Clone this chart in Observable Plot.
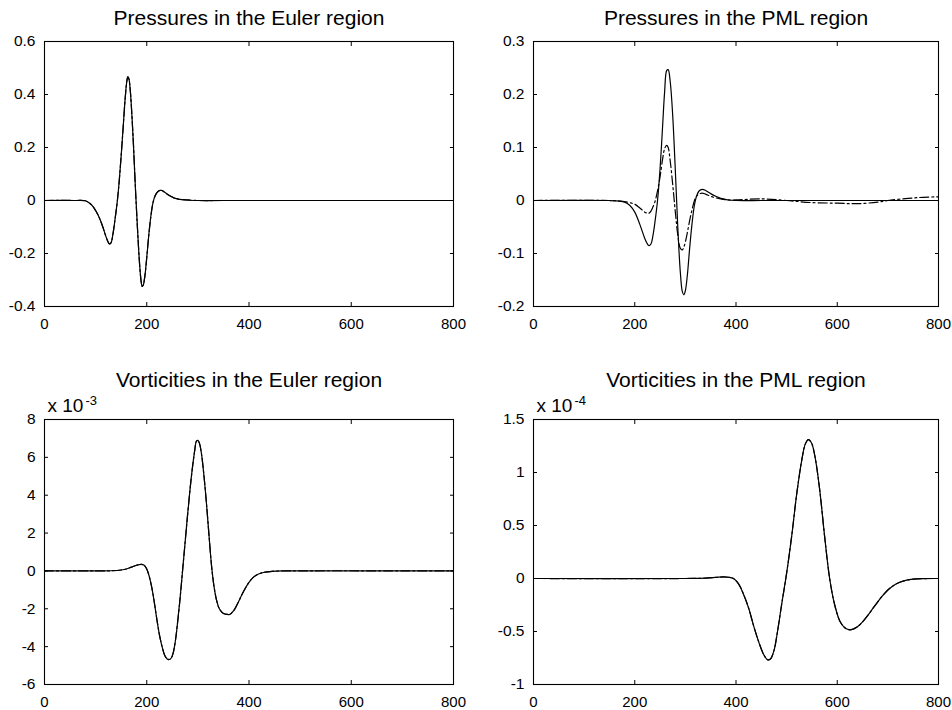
<!DOCTYPE html>
<html><head><meta charset="utf-8">
<script src="https://cdn.jsdelivr.net/npm/d3@7"></script>
<script src="https://cdn.jsdelivr.net/npm/@observablehq/plot@0.6"></script>
<style>
body{margin:0;background:#fff;}
#fig{position:relative;width:952px;height:710px;background:#fff;overflow:hidden;}
#fig > svg{position:absolute;overflow:visible;}
</style></head><body><div id="fig"></div>
<script>
// ---------- data ----------
const xTicks = [0, 200, 400, 600, 800];

// Pressures in the Euler region
const pEulerX      = [0, 60, 80, 85, 90, 95, 100, 105, 110, 115, 120, 124, 127, 130, 134, 138, 142, 146, 150, 154, 158, 161, 163, 165, 168, 171, 174, 178, 182, 186, 189, 191, 193, 196, 200, 204, 208, 211, 214, 218, 222, 226, 229, 233, 238, 245, 252, 260, 270, 285, 300, 350, 800];
const pEulerSolid  = [0, 0, -0.001, -0.006, -0.013, -0.023, -0.038, -0.056, -0.078, -0.105, -0.135, -0.155, -0.164, -0.16, -0.125, -0.07, -0.01, 0.07, 0.17, 0.28, 0.39, 0.45, 0.467, 0.46, 0.41, 0.32, 0.21, 0.04, -0.11, -0.24, -0.305, -0.324, -0.32, -0.29, -0.215, -0.13, -0.06, -0.02, 0.005, 0.024, 0.034, 0.038, 0.038, 0.034, 0.027, 0.018, 0.011, 0.006, 0.003, 0.001, 0, 0, 0];
const pEulerDash   = pEulerSolid.slice();

// Pressures in the PML region
const pPmlX        = [0, 150, 170, 180, 190, 200, 210, 220, 225, 228, 232, 236, 240, 245, 250, 255, 259, 263, 266, 270, 275, 280, 285, 290, 294, 297, 300, 304, 308, 313, 318, 322, 327, 333, 340, 350, 360, 370, 385, 400, 450, 500, 550, 600, 640, 680, 700, 740, 770, 800];
const pPmlSolid    = [0, 0, -0.001, -0.003, -0.009, -0.022, -0.045, -0.072, -0.082, -0.085, -0.082, -0.066, -0.04, 0.0, 0.06, 0.14, 0.205, 0.245, 0.247, 0.225, 0.16, 0.06, -0.05, -0.135, -0.172, -0.178, -0.17, -0.14, -0.095, -0.045, -0.008, 0.008, 0.018, 0.021, 0.019, 0.013, 0.008, 0.004, 0.001, 0, 0, 0, 0, 0, 0, 0, 0, 0, 0, 0];
const pPmlDash     = [0, 0, -0.001, -0.002, -0.004, -0.007, -0.014, -0.022, -0.024, -0.024, -0.02, -0.012, -0.002, 0.018, 0.045, 0.078, 0.098, 0.104, 0.1, 0.075, 0.03, -0.02, -0.065, -0.09, -0.093, -0.088, -0.078, -0.06, -0.04, -0.018, 0.0, 0.008, 0.012, 0.014, 0.012, 0.008, 0.005, 0.003, 0.001, 0.001, 0.003, 0.0, -0.004, -0.005, -0.006, -0.003, 0.0, 0.004, 0.006, 0.007];

// Vorticities in the Euler region (x 10^-3)
const vEulerX      = [0, 100, 130, 150, 160, 170, 180, 189, 195, 200, 205, 210, 215, 220, 225, 230, 235, 240, 244, 248, 252, 256, 260, 265, 270, 275, 280, 285, 290, 294, 297, 300, 303, 307, 312, 317, 322, 327, 332, 337, 342, 350, 358, 362, 370, 380, 390, 400, 410, 420, 430, 445, 470, 800];
const vEulerSolid  = [0, 0, 0.01, 0.05, 0.1, 0.2, 0.3, 0.35, 0.3, 0.1, -0.3, -0.9, -1.7, -2.6, -3.4, -4.0, -4.45, -4.65, -4.68, -4.6, -4.3, -3.7, -2.8, -1.5, 0.0, 1.5, 3.0, 4.4, 5.6, 6.4, 6.85, 6.9, 6.75, 6.2, 5.0, 3.5, 1.8, 0.2, -0.9, -1.6, -2.0, -2.25, -2.3, -2.3, -2.1, -1.6, -1.05, -0.6, -0.3, -0.15, -0.07, -0.02, 0, 0];
const vEulerDash   = vEulerSolid.slice();

// Vorticities in the PML region (x 10^-4)
const vPmlX        = [0, 300, 340, 360, 375, 385, 395, 405, 415, 425, 435, 445, 455, 462, 468, 475, 482, 490, 500, 510, 520, 530, 537, 543, 549, 556, 565, 575, 585, 595, 605, 615, 623, 630, 640, 650, 660, 670, 680, 690, 700, 710, 720, 735, 750, 770, 800];
const vPmlSolid    = [0, 0, 0.003, 0.01, 0.015, 0.012, 0.0, -0.05, -0.15, -0.28, -0.45, -0.6, -0.72, -0.765, -0.76, -0.68, -0.5, -0.25, 0.05, 0.4, 0.8, 1.12, 1.27, 1.31, 1.28, 1.15, 0.85, 0.4, 0.0, -0.25, -0.4, -0.465, -0.483, -0.48, -0.455, -0.41, -0.35, -0.285, -0.22, -0.16, -0.108, -0.07, -0.042, -0.018, -0.006, -0.001, 0];
const vPmlDash     = vPmlSolid.slice();

// ---------- panels ----------
const FONT = "'Liberation Sans', Arial, Helvetica, sans-serif";
const panels = [
  {title: "Pressures in the Euler region", x: pEulerX, solid: pEulerSolid, dash: pEulerDash,
   yDomain: [-0.4, 0.6], yTicks: [-0.4, -0.2, 0, 0.2, 0.4, 0.6], exp: null,
   left: 0, top: 0, ml: 44, mr: 23, mt: 41, mb: 49, titleDy: -17},
  {title: "Pressures in the PML region", x: pPmlX, solid: pPmlSolid, dash: pPmlDash,
   yDomain: [-0.2, 0.3], yTicks: [-0.2, -0.1, 0, 0.1, 0.2, 0.3], exp: null,
   left: 476, top: 0, ml: 57, mr: 14, mt: 41, mb: 49, titleDy: -17},
  {title: "Vorticities in the Euler region", x: vEulerX, solid: vEulerSolid, dash: vEulerDash,
   yDomain: [-6, 8], yTicks: [-6, -4, -2, 0, 2, 4, 6, 8], exp: "-3",
   left: 0, top: 355, ml: 44, mr: 23, mt: 64, mb: 26, titleDy: -33},
  {title: "Vorticities in the PML region", x: vPmlX, solid: vPmlSolid, dash: vPmlDash,
   yDomain: [-1, 1.5], yTicks: [-1, -0.5, 0, 0.5, 1, 1.5], exp: "-4",
   left: 476, top: 355, ml: 57, mr: 14, mt: 64, mb: 26, titleDy: -33}
];

const fig = document.getElementById("fig");
for (const p of panels) {
  const rows = p.x.map((x, i) => ({x, solid: p.solid[i], dash: p.dash[i]}));
  const fmt = d => String(d);
  const marks = [
    Plot.line(rows, {x: "x", y: "dash", stroke: "#000", strokeWidth: 1.2, strokeDasharray: "9,3,2,3", curve: "catmull-rom"}),
    Plot.line(rows, {x: "x", y: "solid", stroke: "#000", strokeWidth: 1.2, curve: "catmull-rom"}),
    Plot.frame({stroke: "#000", strokeWidth: 1.1}),
    Plot.axisX({anchor: "bottom", ticks: xTicks, tickSize: -4, tickPadding: 16, tickFormat: fmt, fontSize: 15, label: null}),
    Plot.axisX({anchor: "top", ticks: xTicks, tickSize: -4, tickFormat: () => "", label: null}),
    Plot.axisY({anchor: "left", ticks: p.yTicks, tickSize: -4, tickPadding: 13, tickFormat: fmt, fontSize: 15.5, label: null}),
    Plot.axisY({anchor: "right", ticks: p.yTicks, tickSize: -4, tickFormat: () => "", label: null}),
    Plot.text([p.title], {frameAnchor: "top", lineAnchor: "bottom", dy: p.titleDy, fontSize: 21, fill: "#000"})
  ];
  if (p.exp) {
    marks.push(Plot.text(["x 10"], {frameAnchor: "top-left", textAnchor: "start", lineAnchor: "bottom", dx: 3, dy: -8, fontSize: 19, fill: "#000"}));
    marks.push(Plot.text([p.exp], {frameAnchor: "top-left", textAnchor: "start", lineAnchor: "bottom", dx: 41, dy: -15, fontSize: 13, fill: "#000"}));
  }
  const svg = Plot.plot({
    width: 476, height: 355,
    marginLeft: p.ml, marginRight: p.mr, marginTop: p.mt, marginBottom: p.mb,
    style: {fontFamily: FONT, background: "transparent", color: "#000", overflow: "visible"},
    x: {domain: [0, 800], label: null},
    y: {domain: p.yDomain, label: null},
    marks
  });
  svg.style.left = p.left + "px";
  svg.style.top = p.top + "px";
  fig.appendChild(svg);
}
</script>
</body></html>
